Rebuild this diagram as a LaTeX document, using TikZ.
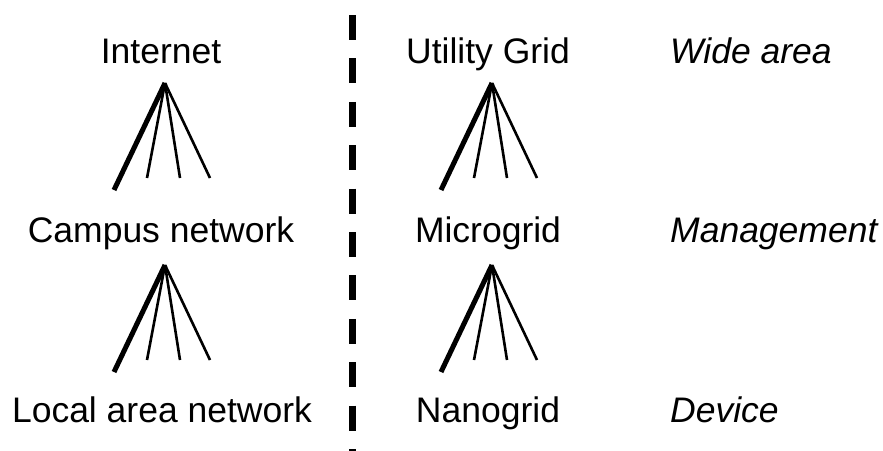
\documentclass[tikz,border=0pt]{standalone}
\usepackage{fontspec}
\setmainfont{Liberation Sans}
\usepackage{tikz}
\usetikzlibrary{positioning}

\begin{document}
\begin{tikzpicture}[x=1pt,y=-1pt,
 level/.style={anchor=base,inner sep=0pt,font=\fontsize{35.5}{40}\selectfont},
 tier/.style={level,anchor=base west,font=\fontsize{35.5}{40}\selectfont\itshape},
 trunk/.style={line width=5pt},
 branch/.style={line width=2.6pt}]
 \useasboundingbox (0,0) rectangle (883,450);
 % network side
 \node[level] (inet) at (161,63) {Internet};
 \node[level] (campus) at (161,242) {Campus network};
 \node[level] (lan) at (162,422) {Local area network};
 % power side
 \node[level] (utility) at (488,63) {Utility Grid};
 \node[level] (micro) at (488,242) {Microgrid};
 \node[level] (nano) at (488,422) {Nanogrid};
 % tier labels
 \node[tier] (wide) at (670,63) {Wide area};
 \node[tier] (mgmt) at (670,242) {Management};
 \node[tier] (dev) at (670,422) {Device};
 % fan-outs
 \coordinate (f1) at (165,83);
 \coordinate (f2) at (165,265);
 \coordinate (f3) at (492,83);
 \coordinate (f4) at (492,265);
 \foreach \f in {f1,f2,f3,f4}{
 \draw[trunk] (\f) -- ++(-51,107);
 \draw[branch] (\f) -- ++(-18,95);
 \draw[branch] (\f) -- ++(15,95);
 \draw[branch] (\f) -- ++(45,95);
 }
 % divider
 \coordinate (top) at (352,15);
 \coordinate (bot) at (352,452);
 \draw[line width=7pt,dash pattern=on 25pt off 18.4pt] (top) -- (bot);
\end{tikzpicture}
\end{document}
